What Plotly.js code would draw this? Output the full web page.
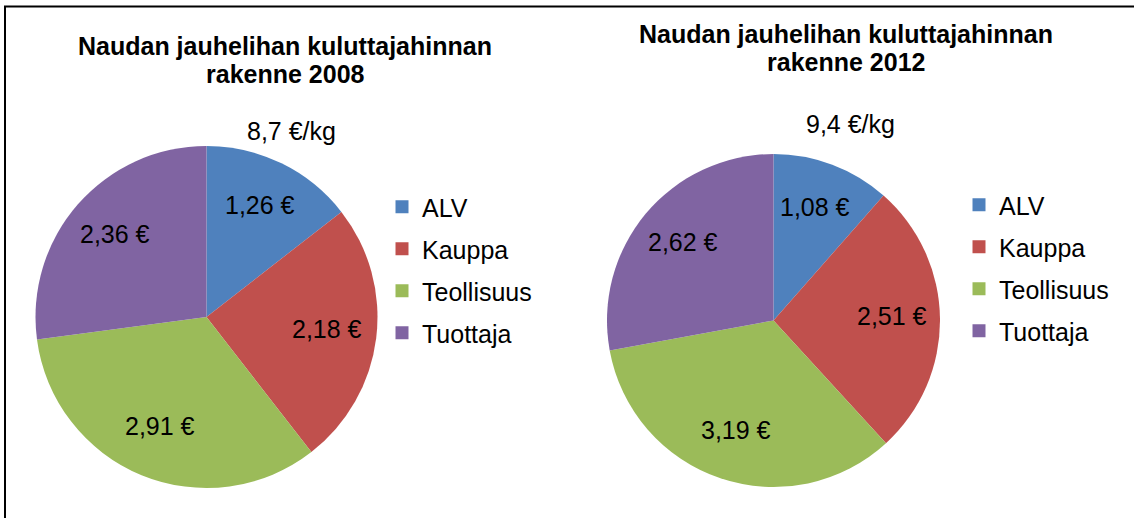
<!DOCTYPE html>
<html><head><meta charset="utf-8">
<script src="https://cdn.plot.ly/plotly-3.0.1.min.js"></script>
<style>html,body{margin:0;padding:0;background:#fff}#chart{width:1134px;height:518px}</style>
</head><body><div id="chart"></div>
<script>
const categories = ["ALV", "Kauppa", "Teollisuus", "Tuottaja"];
const values2008 = [1.26, 2.18, 2.91, 2.36];
const values2012 = [1.08, 2.51, 3.19, 2.62];
const colors = ["#4F81BD", "#C0504D", "#9BBB59", "#8064A2"];
const titleLine1 = ["Naudan jauhelihan kuluttajahinnan", "Naudan jauhelihan kuluttajahinnan"];
const titleLine2 = ["rakenne 2008", "rakenne 2012"];
const totals = ["8,7 €/kg", "9,4 €/kg"];

const W = 1134, H = 518;
const px = x => x / W, py = y => 1 - y / H;
const fmt = v => v.toFixed(2).replace('.', ',') + ' €';
const FONT = 'Liberation Sans, Arial, sans-serif';

// pie boxes in pixels [left, right, top, bottom]
const boxes = [[35, 378, 146, 488], [607, 940, 153, 488]];
const allValues = [values2008, values2012];

const data = [];
const annotations = [];
allValues.forEach((vals, k) => {
  const b = boxes[k];
  data.push({
    type: 'pie', labels: categories, values: vals, sort: false, direction: 'clockwise', rotation: 0,
    marker: {colors: colors, line: {width: 0}}, textinfo: 'none',
    domain: {x: [px(b[0]), px(b[1])], y: [py(b[3]), py(b[2])]}, showlegend: false, hoverinfo: 'label+value'
  });
  // data labels placed on each slice's bisector, inside the slice
  const cx = (b[0] + b[1]) / 2, cy = (b[2] + b[3]) / 2;
  const r = Math.min(b[1] - b[0], b[3] - b[2]) / 2;
  const total = vals.reduce((a, c) => a + c, 0);
  let cum = 0;
  vals.forEach(v => {
    const mid = (cum + v / 2) / total * 2 * Math.PI;
    cum += v;
    const R = 0.71 * r;
    annotations.push({text: fmt(v), xref: 'paper', yref: 'paper', x: px(cx + R * Math.sin(mid)), y: py(cy - R * Math.cos(mid) - 3),
      xanchor: 'center', yanchor: 'middle', showarrow: false, font: {family: FONT, size: 25, color: '#000'}});
  });
});
// legend entries (one per category, one legend per pie)
['legend', 'legend2'].forEach((lg, k) => {
  categories.forEach((c, i) => {
    data.push({type: 'scatter', mode: 'markers', x: [null], y: [null], name: c, legend: lg,
      legendgroup: lg + i, marker: {symbol: 'square', size: 13, color: colors[i]}, hoverinfo: 'skip'});
  });
});
const titleX = [285, 846], titleY = [46, 34], totalX = [291, 850], totalY = [131, 124];
[0, 1].forEach(k => {
  annotations.push({text: '<b>' + titleLine1[k] + '</b>', x: px(titleX[k]), y: py(titleY[k]), xref: 'paper', yref: 'paper', xanchor: 'center', yanchor: 'middle', showarrow: false, font: {family: FONT, size: 25, color: '#000'}});
  annotations.push({text: '<b>' + titleLine2[k] + '</b>', x: px(titleX[k]), y: py(titleY[k] + 28), xref: 'paper', yref: 'paper', xanchor: 'center', yanchor: 'middle', showarrow: false, font: {family: FONT, size: 25, color: '#000'}});
  annotations.push({text: totals[k], x: px(totalX[k]), y: py(totalY[k]), xref: 'paper', yref: 'paper', xanchor: 'center', yanchor: 'middle', showarrow: false, font: {family: FONT, size: 25, color: '#000'}});
});
const legStyle = {font: {family: FONT, size: 25, color: '#000'}, bgcolor: 'rgba(0,0,0,0)', xanchor: 'left', yanchor: 'top',
  itemclick: false, traceorder: 'grouped', tracegroupgap: 6.5, itemwidth: 30};
const layout = {
  width: W, height: H, margin: {l: 0, r: 0, t: 0, b: 0}, paper_bgcolor: '#fff', plot_bgcolor: 'rgba(0,0,0,0)',
  showlegend: true,
  xaxis: {visible: false, domain: [0, 0.01]}, yaxis: {visible: false, domain: [0, 0.01]},
  legend: Object.assign({x: px(382), y: py(184)}, legStyle),
  legend2: Object.assign({x: px(959), y: py(182)}, legStyle),
  annotations: annotations,
  shapes: [
    {type: 'rect', xref: 'paper', yref: 'paper', x0: px(5), x1: px(1160), y0: py(560), y1: py(6.5), line: {color: '#000', width: 2}, fillcolor: 'rgba(0,0,0,0)'}
  ]
};
Plotly.newPlot('chart', data, layout, {staticPlot: true});
</script></body></html>
